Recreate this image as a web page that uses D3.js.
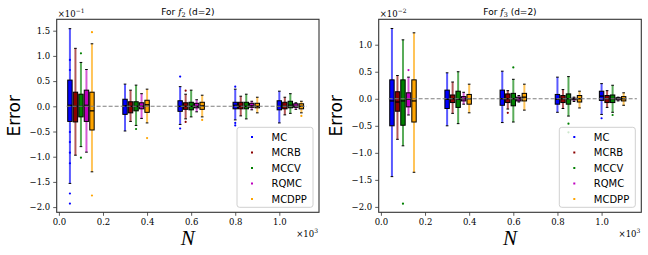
<!DOCTYPE html>
<html>
<head>
<meta charset="utf-8">
<style>
  body { margin: 0; background: #fff; }
  .tick text { font-family: "DejaVu Serif", serif; font-size: 8.5px; fill: #000; }
  .tick line { stroke: #333; stroke-width: 0.8; }
</style>
<title>Error vs N</title>
</head>
<body>
<script src="https://cdnjs.cloudflare.com/ajax/libs/d3/7.8.5/d3.min.js"></script>
<script>
// methods, colours and sample sizes
const methods = ["MC", "MCRB", "MCCV", "RQMC", "MCDPP"];
const colors = ["#0000ff", "#8b0000", "#008000", "#bf00bf", "#ffa500"];
const groupN = [50, 300, 550, 800, 1000];
const methodShift = [0, 25, 50, 75, 100];
const xTicks = [0, 200, 400, 600, 800, 1000];

// f2 panel, values in units of 1e-1 (rows = methods, cols = N groups)
const f2Low  = [[-1.53, -0.49, -0.36, -0.27, -0.33], [-0.97, -0.30, -0.25, -0.19, -0.17], [-0.80, -0.38, -0.21, -0.25, -0.14], [-0.91, -0.24, -0.11, -0.07, -0.06], [-1.30, -0.33, -0.21, -0.13, -0.13]];
const f2Q1   = [[-0.30, -0.16, -0.10, -0.05, -0.07], [-0.31, -0.13, -0.06, -0.05, -0.05], [-0.21, -0.09, -0.07, -0.05, -0.03], [-0.30, -0.05, -0.03, -0.02, -0.02], [-0.47, -0.12, -0.06, -0.03, -0.05]];
const f2Med  = [[0.02, 0.01, 0.00, 0.02, 0.00], [0.00, 0.00, 0.00, 0.00, 0.00], [0.00, 0.00, 0.00, 0.00, 0.02], [0.02, 0.00, 0.00, 0.01, 0.00], [-0.09, 0.03, 0.01, 0.00, 0.00]];
const f2Q3   = [[0.52, 0.14, 0.11, 0.08, 0.11], [0.28, 0.09, 0.07, 0.08, 0.08], [0.24, 0.09, 0.08, 0.08, 0.10], [0.32, 0.07, 0.06, 0.06, 0.05], [0.28, 0.12, 0.08, 0.06, 0.05]];
const f2High = [[1.54, 0.44, 0.39, 0.34, 0.30], [1.15, 0.32, 0.24, 0.20, 0.18], [0.87, 0.42, 0.32, 0.24, 0.25], [0.73, 0.25, 0.13, 0.10, 0.07], [1.24, 0.34, 0.22, 0.18, 0.10]];
// single visible points: [method, group, value]
const f2Points = [
  [0, 0, 0.92], [0, 0, 0.72], [0, 0, -0.51], [0, 0, -0.71], [0, 0, -0.92], [0, 0, -1.13], [0, 0, -1.73], [0, 0, -1.93],
  [0, 2, 0.59], [0, 2, -0.44], [0, 3, 0.39], [0, 3, -0.33], [0, 3, -0.38],
  [1, 2, 0.31], [1, 2, -0.31],
  [2, 0, 1.05], [2, 0, -1.02], [2, 1, -0.45],
  [4, 0, 1.47], [4, 0, -1.77], [4, 1, -0.63], [4, 2, -0.27], [4, 4, -0.19]
];
const f2YTicks = [-2.0, -1.5, -1.0, -0.5, 0.0, 0.5, 1.0, 1.5];

// f3 panel, values in units of 1e-2
const f3Low  = [[-1.44, -0.50, -0.44, -0.25, -0.29], [-0.75, -0.27, -0.19, -0.18, -0.16], [-0.87, -0.46, -0.43, -0.32, -0.25], [-0.30, -0.10, -0.06, -0.05, -0.04], [-1.36, -0.26, -0.21, -0.17, -0.12]];
const f3Q1   = [[-0.50, -0.18, -0.12, -0.10, -0.03], [-0.23, -0.07, -0.07, -0.07, -0.07], [-0.49, -0.16, -0.13, -0.10, -0.07], [-0.15, -0.04, -0.04, -0.02, -0.02], [-0.43, -0.10, -0.04, -0.06, -0.04]];
const f3Med  = [[-0.04, -0.01, 0.00, -0.01, 0.05], [-0.06, 0.00, 0.00, 0.00, 0.00], [-0.04, -0.01, 0.00, 0.00, 0.00], [-0.01, 0.00, 0.00, 0.00, 0.00], [-0.04, 0.00, 0.03, 0.00, 0.00]];
const f3Q3   = [[0.35, 0.16, 0.16, 0.08, 0.14], [0.13, 0.07, 0.09, 0.06, 0.06], [0.35, 0.14, 0.10, 0.09, 0.07], [0.11, 0.04, 0.03, 0.01, 0.02], [0.35, 0.08, 0.10, 0.06, 0.04]];
const f3High = [[1.30, 0.48, 0.51, 0.40, 0.28], [0.43, 0.31, 0.15, 0.17, 0.15], [1.09, 0.50, 0.36, 0.41, 0.25], [0.40, 0.12, 0.06, 0.03, 0.03], [1.22, 0.27, 0.27, 0.14, 0.11]];
const f3Points = [
  [0, 4, -0.36],
  [1, 2, -0.26],
  [2, 0, -1.94], [2, 2, 0.58], [2, 3, -0.46], [2, 3, -0.62], [2, 4, -0.30],
  [3, 0, 0.53]
];
const f3YTicks = [-2.0, -1.5, -1.0, -0.5, 0.0, 0.5, 1.0];

const svg = d3.select("body").append("svg")
  .attr("width", 648)
  .attr("height", 255);

function fmt(v) {
  return (v < 0 ? "\u2212" : "") + Math.abs(v).toFixed(1);
}

function drawPanel(p) {
  const x = d3.scaleLinear().domain([-10, 1180]).range([p.left, p.right]);
  const y = d3.scaleLinear().domain(p.yDomain).range([p.bottom, p.top]);
  const g = svg.append("g");

  // axes
  g.append("g")
    .attr("transform", "translate(0," + p.bottom + ")")
    .call(d3.axisBottom(x).tickValues(xTicks).tickSize(3.5).tickPadding(3)
      .tickFormat(d => (d / 1000).toFixed(1)))
    .call(a => a.select(".domain").remove());
  g.append("g")
    .attr("transform", "translate(" + p.left + ",0)")
    .call(d3.axisLeft(y).tickValues(p.yTicks).tickSize(3.5).tickPadding(3).tickFormat(fmt))
    .call(a => a.select(".domain").remove());

  const bw = 20;
  const cw = 12;

  // single points
  g.selectAll(".pt").data(p.points).enter().append("circle")
    .attr("cx", d => x(groupN[d[1]] + methodShift[d[0]]))
    .attr("cy", d => y(d[2]))
    .attr("r", 1.1)
    .attr("fill", d => colors[d[0]]);

  methods.forEach(function (m, i) {
    const rows = groupN.map((n, j) => ({
      n: n + methodShift[i], lo: p.low[i][j], q1: p.q1[i][j],
      med: p.med[i][j], q3: p.q3[i][j], hi: p.high[i][j]
    }));
    const mg = g.append("g");
    // whisker (dense points)
    mg.selectAll(".wh").data(rows).enter().append("line")
      .attr("x1", d => x(d.n)).attr("x2", d => x(d.n))
      .attr("y1", d => y(d.lo)).attr("y2", d => y(d.hi))
      .attr("stroke", colors[i]).attr("stroke-opacity", 0.65).attr("stroke-width", 2);
    // caps
    ["lo", "hi"].forEach(function (k) {
      mg.selectAll(".cap" + k).data(rows).enter().append("line")
        .attr("x1", d => x(d.n - cw / 2)).attr("x2", d => x(d.n + cw / 2))
        .attr("y1", d => y(d[k])).attr("y2", d => y(d[k]))
        .attr("stroke", "#000").attr("stroke-width", 1);
    });
    // boxes
    mg.selectAll("rect").data(rows).enter().append("rect")
      .attr("x", d => x(d.n - bw / 2))
      .attr("width", x(bw) - x(0))
      .attr("y", d => y(d.q3))
      .attr("height", d => Math.max(y(d.q1) - y(d.q3), 0.5))
      .attr("fill", colors[i])
      .attr("stroke", "#000").attr("stroke-width", 1);
    mg.selectAll(".med").data(rows).enter().append("line")
      .attr("x1", d => x(d.n - bw / 2)).attr("x2", d => x(d.n + bw / 2))
      .attr("y1", d => y(d.med)).attr("y2", d => y(d.med))
      .attr("stroke", "#000").attr("stroke-width", 1.3);
  });

  // zero reference line
  g.append("line")
    .attr("x1", x(p.zeroRange[0])).attr("x2", x(p.zeroRange[1]))
    .attr("y1", y(0)).attr("y2", y(0))
    .attr("stroke", "#7f7f7f").attr("stroke-width", 1.1)
    .attr("stroke-dasharray", "4,2");

  // frame
  g.append("rect")
    .attr("x", p.left).attr("y", p.top)
    .attr("width", p.right - p.left).attr("height", p.bottom - p.top)
    .attr("fill", "none").attr("stroke", "#333").attr("stroke-width", 1.1);

  // title
  const t = g.append("text")
    .attr("x", (p.left + p.right) / 2).attr("y", 15)
    .attr("text-anchor", "middle")
    .style("font-family", "DejaVu Sans, sans-serif").style("font-size", "9px");
  t.append("tspan").text("For ");
  t.append("tspan").text("f").style("font-family", "DejaVu Serif, serif").style("font-style", "italic");
  t.append("tspan").text(p.sub).attr("dy", 2).style("font-family", "DejaVu Serif, serif").style("font-size", "6.5px");
  t.append("tspan").text(" (d=2)").attr("dy", -2);

  // offset texts
  const ot = g.append("text").attr("x", p.left + 1).attr("y", 16.5)
    .style("font-family", "DejaVu Serif, serif").style("font-size", "8.5px");
  ot.append("tspan").text("\u00d710");
  ot.append("tspan").text(p.exp).attr("dy", -3.5).style("font-size", "6px");
  const xt = g.append("text").attr("x", p.right - 1).attr("y", 236.5)
    .attr("text-anchor", "end")
    .style("font-family", "DejaVu Serif, serif").style("font-size", "8.5px");
  xt.append("tspan").text("\u00d710");
  xt.append("tspan").text("3").attr("dy", -3.5).style("font-size", "6px");

  // axis labels
  g.append("text")
    .attr("transform", "translate(" + (p.left - 37) + "," + ((p.top + p.bottom) / 2) + ") rotate(-90)")
    .attr("text-anchor", "middle")
    .style("font-family", "DejaVu Sans, sans-serif").style("font-size", "17px")
    .text("Error");
  g.append("text")
    .attr("x", (p.left + p.right) / 2).attr("y", 245)
    .attr("text-anchor", "middle")
    .style("font-family", "Liberation Serif, serif").style("font-style", "italic").style("font-size", "21px")
    .text("N");

  // legend
  const lw = 76, lh = 80;
  const lx = p.right - 6 - lw, ly = p.bottom - 5 - lh;
  g.append("rect")
    .attr("x", lx).attr("y", ly).attr("width", lw).attr("height", lh)
    .attr("rx", 2.5)
    .attr("fill", "#fff").attr("fill-opacity", 0.8)
    .attr("stroke", "#d0d0d0").attr("stroke-width", 1);
  const li = g.selectAll(".leg").data(methods).enter().append("g")
    .attr("transform", (d, i) => "translate(" + lx + "," + (ly + 9.7 + i * 15.5) + ")");
  li.append("rect")
    .attr("x", 14).attr("y", -1).attr("width", 2).attr("height", 2)
    .attr("fill", (d, i) => colors[i]);
  li.append("text")
    .attr("x", 34.5).attr("dy", "0.35em")
    .style("font-family", "DejaVu Sans, sans-serif").style("font-size", "10px")
    .text(d => d);
}

drawPanel({
  left: 56.7, right: 319, top: 19.3, bottom: 212.3,
  yDomain: [-2.103, 1.726], yTicks: f2YTicks,
  low: f2Low, q1: f2Q1, med: f2Med, q3: f2Q3, high: f2High, points: f2Points,
  zeroRange: [35, 1125], sub: "2", exp: "\u22121"
});
drawPanel({
  left: 378.7, right: 641.3, top: 19.3, bottom: 212.3,
  yDomain: [-2.10, 1.47], yTicks: f3YTicks,
  low: f3Low, q1: f3Q1, med: f3Med, q3: f3Q3, high: f3High, points: f3Points,
  zeroRange: [35, 1160], sub: "3", exp: "\u22122"
});
</script>
</body>
</html>
